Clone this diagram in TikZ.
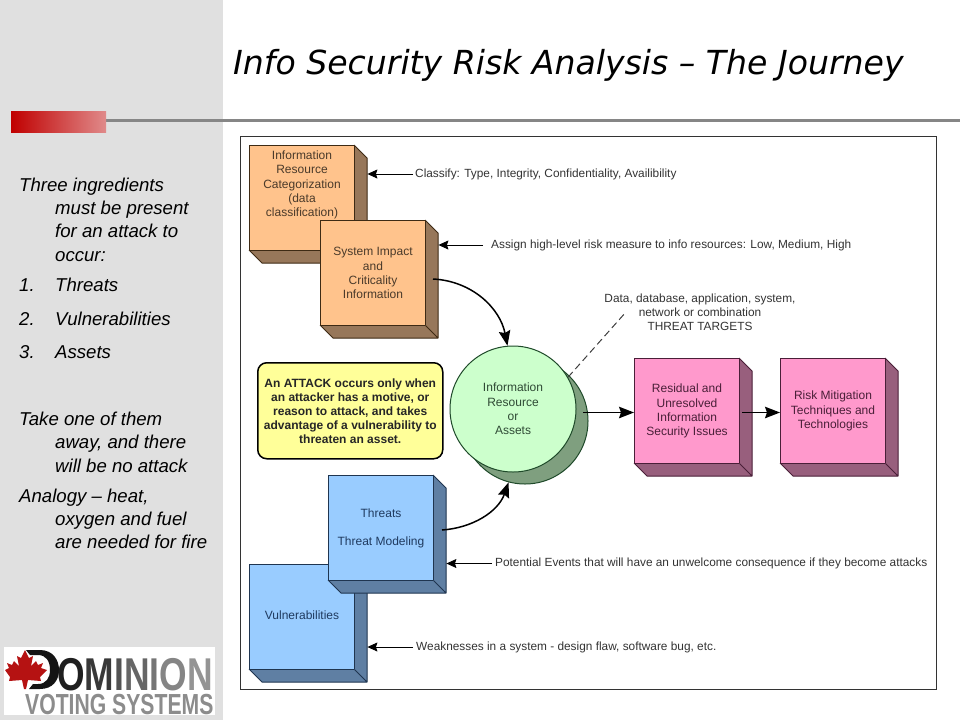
\documentclass[tikz,border=0pt]{standalone}
\usepackage{graphicx}
\usepackage{fontspec}
\setmainfont{Liberation Sans}
\newfontfamily\titlefont{DejaVu Sans}
\usetikzlibrary{arrows.meta,calc}
\definecolor{sidebar}{HTML}{E0E0E0}
\definecolor{rulegrey}{HTML}{868686}
\definecolor{lbl}{HTML}{333333}
\definecolor{HTMLred}{HTML}{C00000}
\definecolor{HTMLpale}{HTML}{E08A8A}
\definecolor{peachf}{HTML}{FFC38C}
\definecolor{browns}{HTML}{97775A}
\definecolor{browne}{HTML}{3E2A14}
\definecolor{peacht}{HTML}{4A3A2A}
\definecolor{bluef}{HTML}{99CCFF}
\definecolor{blues}{HTML}{5F7FA3}
\definecolor{bluee}{HTML}{1F3550}
\definecolor{bluet}{HTML}{1F3A5F}
\definecolor{pinkf}{HTML}{FF99CC}
\definecolor{pinks}{HTML}{985F7D}
\definecolor{pinke}{HTML}{4A1F38}
\definecolor{pinkt}{HTML}{4A1F38}
\definecolor{greenf}{HTML}{CCFFCC}
\definecolor{greens}{HTML}{7F9F7F}
\definecolor{greene}{HTML}{1F4A2A}
\definecolor{greent}{HTML}{2F4A35}
\definecolor{yellowf}{HTML}{FFFF99}
\definecolor{leafred}{HTML}{B51212}
\tikzset{
  x=1pt,y=-1pt,
  frontface/.style={draw=#1,line width=1pt,line join=round,minimum width=105pt,minimum height=105pt,inner sep=0pt,align=center,font=\fontsize{12}{14.2}\selectfont,anchor=north west},
  ghost/.style={inner sep=0pt,minimum width=118pt,minimum height=118pt,anchor=north west},
  note/.style={text=lbl,font=\fontsize{11.85}{14}\selectfont,inner sep=0pt,anchor=west},
  smallarrow/.style={draw=black,line width=1pt,-{Stealth[length=10pt,width=9pt,inset=1.5pt]}},
  bigarrow/.style={draw=black,line width=1.5pt,-{Stealth[length=15pt,width=11.5pt,inset=2pt]}},
  sidetext/.style={font=\fontsize{18.6}{23.3}\selectfont\itshape,text=black,inner sep=0pt,anchor=north west,align=left},
}
\newcommand{\numitem}[2]{\makebox[36pt][l]{#1}#2}
% name, x, y, front colour, side colour, edge colour, text colour, text
\newcommand{\cubebox}[8]{%
  \node[ghost] (#1-o) at (#2,#3) {};
  \fill[#5] (#2+105,#3) -- (#2+118,#3+13) -- (#2+118,#3+118) -- (#2+13,#3+118) -- (#2,#3+105) -- cycle;
  \draw[#6,line width=1pt,line join=round] (#2+105,#3) -- (#2+118,#3+13) -- (#2+118,#3+118) -- (#2+13,#3+118) -- (#2,#3+105) (#2+105,#3+105) -- (#2+118,#3+118);
  \node[frontface=#6,fill=#4,text=#7] (#1) at (#2,#3) {#8};
}
\begin{document}
\begin{tikzpicture}
\useasboundingbox (0,0) rectangle (960,720);
\fill[white] (0,0) rectangle (960,720);
\fill[sidebar] (0,0) rectangle (223,720);
% title band
\coordinate (ruleL) at (106,120.5);
\coordinate (ruleR) at (960,120.5);
\draw[rulegrey,line width=3pt] (ruleL) -- (ruleR);
\shade[left color=HTMLred,right color=HTMLpale] (11,111) rectangle (106,132);
\node[font=\titlefont\itshape\fontsize{33.1}{38}\selectfont,text=black,inner sep=0pt,anchor=west] (title) at (233,65) {Info Security Risk Analysis – The Journey};
% side text
\node[sidetext] (s1) at (19,177.5) {Three ingredients\\\hspace*{36pt}must be present\\\hspace*{36pt}for an attack to\\\hspace*{36pt}occur:};
\node[sidetext] (s2) at (19,278) {\numitem{1.}{Threats}};
\node[sidetext] (s3) at (19,312) {\numitem{2.}{Vulnerabilities}};
\node[sidetext] (s4) at (19,345) {\numitem{3.}{Assets}};
\node[sidetext] (s5) at (19,412) {Take one of them\\\hspace*{36pt}away, and there\\\hspace*{36pt}will be no attack};
\node[sidetext] (s6) at (19,488.5) {Analogy -- heat,\\\hspace*{36pt}oxygen and fuel\\\hspace*{36pt}are needed for fire};
% diagram frame
\node[draw=black!80,line width=1pt,fill=white,minimum width=695.5pt,minimum height=553pt,inner sep=0pt,anchor=north west] (frame) at (240,136) {};
% cubes
\cubebox{cat}{249}{145}{peachf}{browns}{browne}{peacht}{Information\\Resource\\Categorization\\(data\\classification)\\~\\~}
\cubebox{imp}{320}{220}{peachf}{browns}{browne}{peacht}{System Impact\\and\\Criticality\\Information}
\cubebox{vul}{249}{564}{bluef}{blues}{bluee}{bluet}{\raisebox{3pt}{Vulnerabilities}}
\cubebox{thr}{328}{475}{bluef}{blues}{bluee}{bluet}{Threats\\[14pt]Threat Modeling}
\cubebox{res}{634}{358}{pinkf}{pinks}{pinke}{pinkt}{Residual and\\Unresolved\\Information\\Security Issues}
\cubebox{mit}{780}{358}{pinkf}{pinks}{pinke}{pinkt}{Risk Mitigation\\Techniques and\\Technologies}
% circle
\node[circle,draw=greene,fill=greens,line width=1pt,minimum size=126pt,inner sep=0pt] (assetshadow) at (525,421) {};
\node[circle,draw=greene,fill=greenf,line width=1pt,minimum size=126pt,inner sep=0pt,align=center,font=\fontsize{12}{14.2}\selectfont,text=greent] (asset) at (513,409) {Information\\Resource\\or\\Assets};
% yellow note
\node[draw=black,fill=yellowf,line width=1.5pt,rounded corners=9pt,minimum width=185pt,minimum height=96pt,inner sep=2pt,align=center,anchor=north west,font=\bfseries\fontsize{12}{14}\selectfont,text=black!85] (attack) at (257,362) {An ATTACK occurs only when\\an attacker has a motive, or\\reason to attack, and takes\\advantage of a vulnerability to\\threaten an asset.};
% notes
\node[note] (n1) at (415,174) {Classify: Type, Integrity, Confidentiality, Availibility};
\node[note] (n2) at (491,245) {Assign high-level risk measure to info resources: Low, Medium, High};
\node[note] (n3) at (495,563.5) {Potential Events that will have an unwelcome consequence if they become attacks};
\node[note] (n4) at (416,647) {Weaknesses in a system - design flaw, software bug, etc.};
\node[note,anchor=north,align=center] (n5) at (700,294) {Data, database, application, system,\\network or combination\\THREAT TARGETS};
% connectors
\draw[smallarrow] ([xshift=-2pt]n1.west) -- (n1.west -| cat-o.east);
\draw[smallarrow] ([xshift=-8pt]n2.west) -- (n2.west -| imp-o.east);
\draw[smallarrow] ([xshift=-3pt]n3.west) -- (n3.west -| thr-o.east);
\draw[smallarrow] ([xshift=-3pt]n4.west) -- (n4.west -| vul-o.east);
\coordinate (impout) at (433,279);
\coordinate (throut) at (442,530);
\coordinate (assetout) at (583,412.5);
\coordinate (resout) at (742,412.5);
\draw[bigarrow] (impout) .. controls (472,281) and (500,308) .. (asset.95);
\draw[bigarrow] (throut) .. controls (472,528) and (498,512) .. (assetshadow.255);
\draw[bigarrow] (assetout) -- (assetout -| res.west);
\draw[bigarrow] (resout) -- (resout -| mit.west);
\coordinate (dashend) at (626,312);
\draw[draw=black!75,line width=1pt,dash pattern=on 7pt off 4pt] (asset.30) -- (dashend);
% logo
\node[fill=white,minimum width=211pt,minimum height=68pt,inner sep=0pt,anchor=north west] (logo) at (4,647) {};
\fill[black!92] (26,650) -- (40,650) .. controls (53,650) and (59,660) .. (59,670) .. controls (59,680) and (53,689) .. (40,689) -- (29,689) -- (33,684) -- (38,684) .. controls (46,684) and (50,678) .. (50,670) .. controls (50,661) and (46,655) .. (38,655) -- (30,655) -- cycle;
\fill[leafred] (25,650) -- (29,658) -- (33,656) -- (31,666) -- (36,661) -- (38,665) -- (43,663) -- (41,668) -- (47,670) -- (40,677) -- (41,681) -- (28,680) -- (26,689) -- (24,689) -- (22,680) -- (9,681) -- (10,677) -- (5,670) -- (9,668) -- (7,663) -- (12,665) -- (14,661) -- (19,666) -- (17,656) -- (21,658) -- cycle;
\node[inner sep=0pt,anchor=base west,font=\bfseries\fontsize{46}{46}\selectfont] (dom) at (57,690) {\smash{\scalebox{.77}[1]{\textcolor{black!88}{O}\textcolor{black!78}{M}\textcolor{black!68}{I}\textcolor{black!60}{N}\textcolor{black!54}{I}\textcolor{black!48}{O}\textcolor{black!42}{N}}}};
\node[inner sep=0pt,anchor=base west,font=\bfseries\fontsize{29}{29}\selectfont,text=black!45] (vot) at (25,714) {\smash{\scalebox{.73}[1]{VOTING SYSTEMS}}};
\end{tikzpicture}
\end{document}
